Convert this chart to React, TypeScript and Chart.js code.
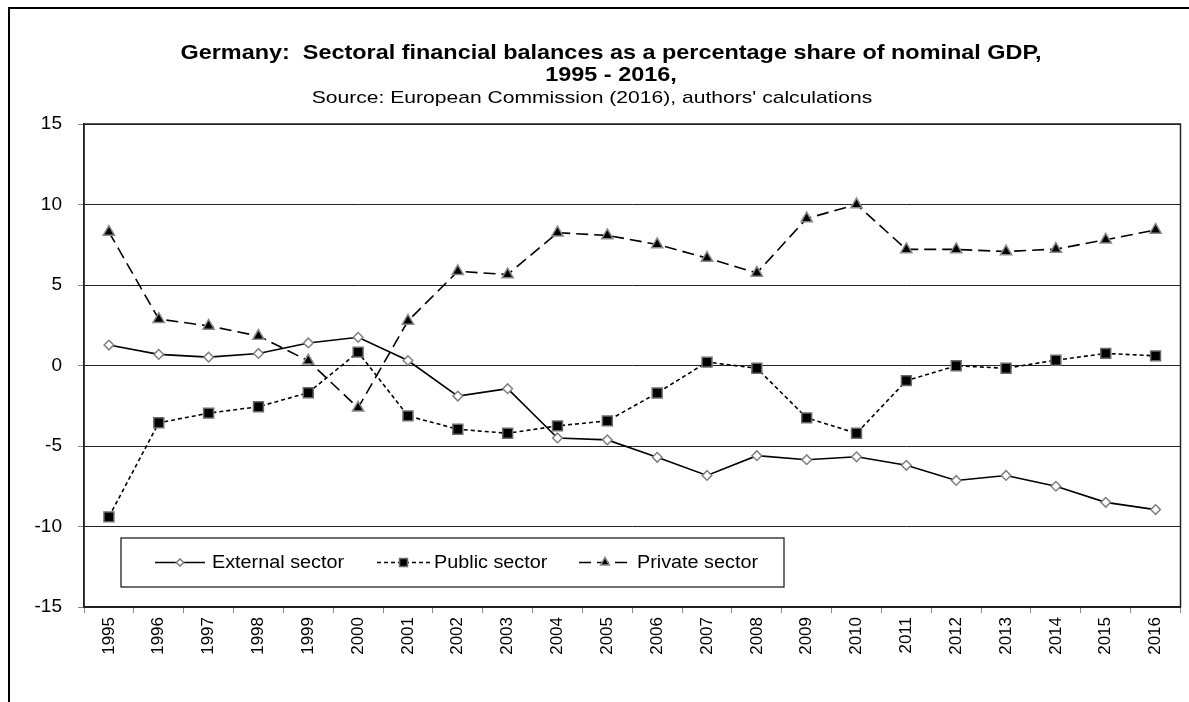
import React, { useEffect, useRef } from 'react';
import { Chart, registerables } from 'chart.js';
import { drawPoint } from 'chart.js/helpers';

Chart.register(...registerables);

const years = ['1995', '1996', '1997', '1998', '1999', '2000', '2001', '2002', '2003', '2004', '2005', '2006', '2007', '2008', '2009', '2010', '2011', '2012', '2013', '2014', '2015', '2016'];
const externalSector = [1.27, 0.69, 0.52, 0.75, 1.4, 1.75, 0.31, -1.9, -1.44, -4.5, -4.62, -5.7, -6.83, -5.6, -5.85, -5.67, -6.2, -7.14, -6.83, -7.5, -8.5, -8.95];
const publicSector = [-9.4, -3.56, -2.96, -2.56, -1.69, 0.83, -3.13, -3.96, -4.21, -3.75, -3.44, -1.71, 0.21, -0.17, -3.25, -4.21, -0.94, -0.02, -0.17, 0.33, 0.75, 0.6];
const privateSector = [8.29, 2.88, 2.46, 1.83, 0.29, -2.63, 2.77, 5.85, 5.65, 8.25, 8.08, 7.52, 6.67, 5.75, 9.13, 10.0, 7.21, 7.21, 7.08, 7.23, 7.81, 8.42];
const seriesNames = ['External sector', 'Public sector', 'Private sector'];
const titleLines = ['Germany:  Sectoral financial balances as a percentage share of nominal GDP,', '1995 - 2016,'];
const subtitleText = "Source: European Commission (2016), authors' calculations";
const yMin = -15;
const yMax = 15;
const yStep = 5;

const FONT = "'Liberation Sans', Arial, sans-serif";

// layout constants (text blocks: center x, center y, font, horizontal stretch)
const titleLayout = [
  { x: 611, y: 53, font: `bold 21px ${FONT}`, sx: 1.115 },
  { x: 611, y: 75, font: `bold 21px ${FONT}`, sx: 1.115 },
];
const subtitleLayout = { x: 592, y: 98, font: `17px ${FONT}`, sx: 1.24 };

const legendBox = { x: 121, y: 538, w: 663, h: 49 };
const legendSlots = [
  { from: 155, to: 205, text: 212 },
  { from: 377, to: 430, text: 434 },
  { from: 579, to: 631, text: 637 },
];

function stretchedText(ctx: any, text: string, x: number, y: number, font: string, sx: number, align: string) {
  ctx.save();
  ctx.font = font;
  ctx.fillStyle = '#000';
  ctx.textAlign = align;
  ctx.textBaseline = 'middle';
  ctx.translate(x, y);
  ctx.scale(sx, 1);
  ctx.fillText(text, 0, 0);
  ctx.restore();
}

const titles = {
  id: 'stretchedTitles',
  afterDraw(chart: any) {
    const ctx = chart.ctx;
    titleLines.forEach((t, i) => {
      const l = titleLayout[i];
      stretchedText(ctx, t, l.x, l.y, l.font, l.sx, 'center');
    });
    stretchedText(ctx, subtitleText, subtitleLayout.x, subtitleLayout.y, subtitleLayout.font, subtitleLayout.sx, 'center');
  },
};

const plotFrame = {
  id: 'plotFrame',
  beforeDatasetsDraw(chart: any) {
    const { ctx, chartArea: a } = chart;
    ctx.save();
    ctx.strokeStyle = '#222';
    ctx.lineWidth = 1.5;
    ctx.strokeRect(a.left, a.top, a.right - a.left, a.bottom - a.top);
    ctx.restore();
  },
};

const boxLegend = {
  id: 'boxLegend',
  afterDatasetsDraw(chart: any) {
    const ctx = chart.ctx;
    ctx.save();
    ctx.fillStyle = '#fff';
    ctx.fillRect(legendBox.x, legendBox.y, legendBox.w, legendBox.h);
    ctx.strokeStyle = '#222';
    ctx.lineWidth = 1.3;
    ctx.strokeRect(legendBox.x, legendBox.y, legendBox.w, legendBox.h);
    const cy = legendBox.y + legendBox.h / 2;
    chart.data.datasets.forEach((ds: any, i: number) => {
      const s = legendSlots[i];
      ctx.save();
      ctx.strokeStyle = ds.borderColor;
      ctx.lineWidth = ds.borderWidth;
      ctx.setLineDash(ds.borderDash || []);
      ctx.beginPath();
      ctx.moveTo(s.from, cy);
      ctx.lineTo(s.to, cy);
      ctx.stroke();
      ctx.restore();
      ctx.save();
      ctx.fillStyle = ds.pointBackgroundColor;
      ctx.strokeStyle = ds.pointBorderColor;
      ctx.lineWidth = ds.pointBorderWidth;
      const r = ds.pointRadius * (i === 0 ? 0.75 : 0.8);
      drawPoint(ctx, { pointStyle: ds.pointStyle, radius: r, rotation: 0, borderWidth: ds.pointBorderWidth } as any, (s.from + s.to) / 2, cy);
      ctx.restore();
      stretchedText(ctx, ds.label, s.text, cy + 1, `18px ${FONT}`, 1.1, 'left');
    });
    ctx.restore();
  },
};

export default function App() {
  const canvasRef = useRef<HTMLCanvasElement | null>(null);

  useEffect(() => {
    if (!canvasRef.current) return;
    const chart = new Chart(canvasRef.current, {
      type: 'line',
      data: {
        labels: years,
        datasets: [
          {
            label: seriesNames[0],
            data: externalSector,
            borderColor: '#000',
            borderWidth: 1.6,
            pointStyle: 'rectRot',
            pointRadius: 4.8,
            pointBackgroundColor: '#fff',
            pointBorderColor: '#808080',
            pointBorderWidth: 1.5,
            tension: 0,
          },
          {
            label: seriesNames[1],
            data: publicSector,
            borderColor: '#000',
            borderWidth: 1.6,
            borderDash: [4, 3],
            pointStyle: 'rect',
            pointRadius: 7,
            pointBackgroundColor: '#000',
            pointBorderColor: '#6a6a6a',
            pointBorderWidth: 1.5,
            tension: 0,
          },
          {
            label: seriesNames[2],
            data: privateSector,
            borderColor: '#000',
            borderWidth: 1.6,
            borderDash: [12, 6],
            pointStyle: 'triangle',
            pointRadius: 6.5,
            pointBackgroundColor: '#000',
            pointBorderColor: '#8a8a8a',
            pointBorderWidth: 1.5,
            tension: 0,
          },
        ],
      } as any,
      options: {
        animation: false,
        responsive: true,
        maintainAspectRatio: false,
        layout: { padding: { left: 0, right: 5, top: 124, bottom: 0 } },
        plugins: {
          legend: { display: false },
          tooltip: { enabled: false },
          title: { display: false },
          subtitle: { display: false },
        },
        scales: {
          x: {
            type: 'category',
            offset: true,
            grid: {
              display: true,
              offset: true,
              drawOnChartArea: false,
              drawTicks: true,
              tickLength: 6,
              tickColor: '#888',
            },
            border: { display: true, color: '#222', width: 1.5 },
            ticks: {
              color: '#000',
              font: { family: FONT, size: 17 },
              minRotation: 90,
              maxRotation: 90,
              autoSkip: false,
              padding: 4,
            },
            afterFit(scale: any) {
              scale.height = 95;
            },
          },
          y: {
            min: yMin,
            max: yMax,
            grid: {
              color: '#222',
              lineWidth: 1,
              tickLength: 6,
              tickColor: '#888',
            },
            border: { display: true, color: '#222', width: 1.5 },
            ticks: {
              stepSize: yStep,
              color: '#000',
              font: { family: FONT, size: 19 },
              padding: 16,
            },
            afterFit(scale: any) {
              scale.width = 84;
            },
          },
        },
      } as any,
      plugins: [plotFrame, boxLegend, titles],
    });
    return () => chart.destroy();
  }, []);

  return (
    <div style={{ position: 'absolute', left: 0, top: 0, width: 1189, height: 702, background: '#fff', overflow: 'hidden' }}>
      <div style={{ position: 'absolute', left: 8, top: 7, width: 1400, height: 900, border: '2px solid #000', boxSizing: 'border-box' }} />
      <div style={{ position: 'absolute', left: 0, top: 0, width: 1189, height: 702 }}>
        <canvas ref={canvasRef} />
      </div>
    </div>
  );
}
